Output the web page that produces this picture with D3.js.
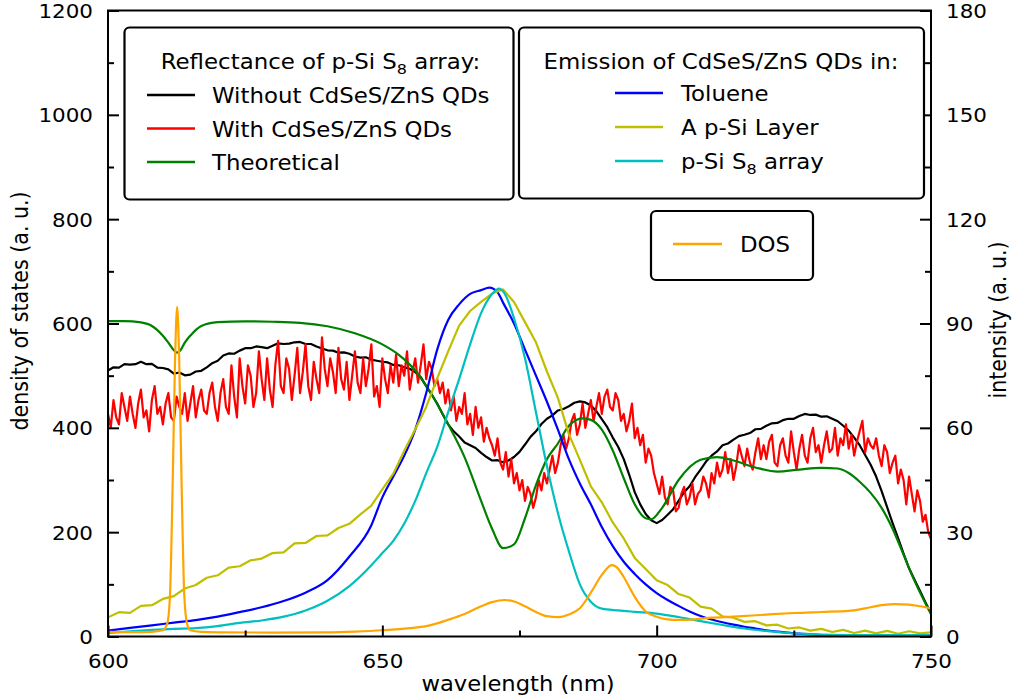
<!DOCTYPE html>
<html>
<head>
<meta charset="utf-8">
<script src="https://cdn.jsdelivr.net/npm/d3@7"></script>
<style>
body{margin:0;background:#fff}
svg{display:block}
text{font-family:"DejaVu Sans",sans-serif;fill:#000}
</style>
</head>
<body>
<svg id="chart" width="1013" height="700"></svg>
<script>
// ---------- tick labels ----------
const xMajor = [600, 650, 700, 750];
const xMinor = [625, 675, 725];
const leftMajor = [0, 200, 400, 600, 800, 1000, 1200];
const leftMinor = [100, 300, 500, 700, 900, 1100];
const rightMajor = [0, 30, 60, 90, 120, 150, 180];
const rightMinor = [15, 45, 75, 105, 135, 165];

// ---------- reflectance (right axis units) ----------
// Without CdSeS/ZnS QDs : 600..750 nm, every 1 nm
const blackStart = 600, blackStep = 1;
const blackVals = [
  76.5,77.4,77.3,78.3,78.2,78.3,79,78.3,78.4,77.3,
  77.2,76.8,75.6,75.9,75.1,75.3,76.2,76.4,77.4,78.6,
  79.3,80.8,81.4,81.3,82.2,82.9,82.9,83.4,83.2,82.9,
  83.6,84.3,84.1,84.2,84.6,84.7,84.1,84.1,83.4,82.8,
  82.3,82.2,81.6,81.7,81.3,80.5,80.2,80.3,79.6,79.3,
  79,78.8,78.1,78,77.4,77,76,74.6,72,69.6,
  67,63.9,61,59,57.5,55.8,55,54.2,52.8,51.6,
  50.6,50.7,50.1,50.6,51.6,53.1,55.2,57.4,59,61.1,
  62.6,63.6,65,65.4,66.2,67.2,67.6,67.3,66.4,64.8,
  62.5,60.2,57.2,54.5,51,46.5,41.5,38,35.2,33.4,
  32.6,33.5,35,36.6,39,41.5,43.2,45.8,48,50.3,
  52,53.2,55,55.5,56.6,57.6,58,58.5,59.6,59.7,
  60.6,61.3,61.4,62.2,62.6,62.6,63.4,64,63.7,63.8,
  63.2,63.3,62.6,61.9,60.6,59.2,57.2,55,52.2,49.4,
  46,41.8,37.2,32.6,28.3,23.8,19.6,16.3,13.1,9.8,
  6.6];
// With CdSeS/ZnS QDs : 600..750 nm, every 0.5 nm
const redStart = 600, redStep = 0.5;
const redVals = [
  64,60,68,63,61,70,66,62,69,64,60,67,71,63,65,59,68,72,64,66,
  61,67,70,63,62,69,66,64,70,62,67,72,63,68,71,65,64,70,73,66,
  62,70,74,66,64,78,69,63,80,72,67,78,75,66,70,82,74,68,80,71,
  66,78,85,72,70,80,77,68,75,83,70,76,84,72,68,79,74,70,86,77,
  72,80,76,70,83,74,71,79,68,75,82,73,70,80,72,77,84,69,72,66,
  80,74,70,78,73,81,72,78,75,82,71,76,80,73,78,84,74,79,77,72,
  74,70,73,67,71,65,69,62,66,64,70,61,64,58,66,60,63,56,60,57,
  55,52,57,50,48,53,46,51,44,47,42,45,39,43,41,37,40,45,42,47,
  44,48,52,47,50,55,58,54,57,62,64,58,61,67,60,64,68,62,66,70,
  64,69,71,66,65,70,68,62,64,59,62,67,57,60,55,58,50,54,52,47,
  44,41,46,40,38,43,42,36,37,41,43,38,40,44,38,41,42,46,44,40,
  47,44,50,46,48,53,47,51,45,49,55,52,49,54,50,48,53,57,51,55,
  51,56,58,50,49,55,57,52,50,59,53,48,54,58,52,50,57,60,53,55,
  50,55,59,53,54,60,52,57,55,61,54,58,52,56,59,62,53,57,55,54,
  57,52,49,55,53,47,50,52,44,48,45,38,46,41,36,42,39,33,35,30,
  28];
// Theoretical
const greenWl = [600,603,606,608,610,611,612,612.6,613.2,614,615,617,620,625,630,635,640,645,650,653,
  656,659,662,665,668,670,672,674,676,678,680,682,684,686.5,688,690,692,694,696,698,
  699,701,704,708,711,714,718,722,726,730,733,735,737,739,741,743,745,747,749,750];
const greenVals = [90.7,90.7,90.3,89.3,86.5,84.5,82.3,81.6,82.3,84.5,86.5,89.3,90.4,90.6,90.5,90.2,89.2,87.2,84,81,
  76.5,69.5,61,51.5,39,31,25.4,26.5,34,43.5,51,55.5,60.6,62.7,62.3,59.5,53.5,45.5,38,34,
  33.7,37,45,50.8,51.6,50.6,48.6,47.4,48,48.5,48.3,47,44.5,41.3,37,31,23.5,16,9.5,6.5];

// ---------- emission (right axis) ----------
const blueWl = [600,604,608,612,616,620,624,628,632,636,640,644,648,650,652,654,656,658,660,662,
  664,666,668,669.5,671,672,674,676,678,680,682,684,686,688,690,692,694,696,698,700,
  702,704,706,708,710,712,714,716,718,720,722,724,726,728,730,735,740,745,750];
const blueVals = [1.7,2.5,3.2,4,4.7,5.7,7,8.4,10.2,12.6,16.2,23,32,40,46,52,59.5,70,82.5,91,
  95.5,98.5,99.6,100.3,99,96,90,82.5,75,67.5,59.5,51,44,38,31.5,26,21.5,18,15,12.5,
  10.5,8.8,7.2,5.9,4.9,4.1,3.4,2.8,2.3,1.8,1.4,1.1,0.8,0.6,0.4,0.2,0.1,0.1,0.1];
// A p-Si Layer : 600..750 nm, every 2 nm
const oliveStart = 600, oliveStep = 2;
const oliveVals = [5.5,7,6.8,8.8,9,10.8,11.6,13.8,14.8,16.9,
  17.6,19.8,20.2,21.9,22.4,24,24.2,26.8,26.9,28.9,
  29.1,31.2,32.4,35.1,37.6,42.3,
  46.8,53.4,59.6,66,74.2,82,89.4,93.6,96.2,98.6,
  99.8,96.2,90.4,84.6,76.2,68.6,58.2,50.8,43.2,38.6,
  32.8,28.2,22.6,19.4,16.2,
  14.8,12.2,11.2,8.6,8,5.8,5.4,4.2,4.4,3.2,
  3.4,2.3,2.6,1.7,2.2,1.3,1.9,1,1.7,0.9,
  1.6,0.8,1.5,0.9,1.2];
// p-Si S8 array
const cyanWl = [600,604,608,612,616,620,624,628,632,636,640,644,648,650,652,654,656,658,660,662,
  664,666,668,670,671.3,672.5,674,676,678,680,682,684,686,688,690,693,696,700,704,708,
  712,716,720,724,728,732,738,744,750];
const cyanVals = [1,1.5,1.9,2.2,2.4,3,3.9,4.6,5.7,7.5,10.3,14.5,20.5,24,27.5,32.5,39,47,54.5,64.5,
  74,84,93,98.5,100,98,91.5,80,64.5,49,35.5,24.5,15,10,8,7.5,7.1,6.6,5.6,4.4,
  3.3,2.3,1.6,1,0.7,0.5,0.4,0.4,0.4];

// ---------- density of states (left axis) ----------
const dosWl = [600,605,608,610,610.8,611.3,611.8,612.2,612.6,613,613.4,613.9,614.4,615,617,620,630,640,645,650,
  655,658,662,665,668,670,672.3,674,676,678,680,682,684,686,688,690,691.8,693,694,696,
  698,700,702,704,707,710,714,720,725,730,735,738,741,743.5,746,748,750];
const dosVals = [9,8.5,9,12,25,80,300,520,632,520,300,80,25,12,9,8,7.5,8,9.5,12,
  16,20,32,43,58,66,70,67,58,47,39,37,42,54,84,118,137,130,114,76,
  48,38,33,32,33,36,38,42,45,47,49,54,60,62,61,58,54];

// ---------- texts ----------
const xLabel = "wavelength (nm)";
const leftLabel = "density of states (a. u.)";
const rightLabel = "intensity (a. u.)";
const legend1Title = ["Reflectance of p-Si S", "8", " array:"];
const legend1Items = ["Without CdSeS/ZnS QDs", "With CdSeS/ZnS QDs", "Theoretical"];
const legend1Colors = ["#000000", "#ff0000", "#008000"];
const legend2Title = "Emission of CdSeS/ZnS QDs in:";
const legend2Items = [["Toluene"], ["A p-Si Layer"], ["p-Si S", "8", " array"]];
const legend2Colors = ["#0000ff", "#bfbf00", "#00bfbf"];
const legend3Items = ["DOS"];
const legend3Colors = ["#ffa500"];

// ---------- layout ----------
const X0 = 108, X1 = 931, Y0 = 10.5, Y1 = 636.5;
const SX = 1.1; // horizontal text stretch of the reference
const svg = d3.select("#chart");

const x = d3.scaleLinear().domain([600, 750]).range([X0, X1]);
const yL = d3.scaleLinear().domain([0, 1200]).range([Y1, Y0]);
const yR = d3.scaleLinear().domain([0, 180]).range([Y1, Y0]);

svg.append("defs").append("clipPath").attr("id", "plot")
  .append("rect").attr("x", X0).attr("y", Y0).attr("width", X1 - X0).attr("height", Y1 - Y0);

function toPts(xs, vals) { return vals.map((v, i) => [xs[i], v]); }
function stepPts(start, step, vals) { return vals.map((v, i) => [start + i * step, v]); }

const plot = svg.append("g").attr("clip-path", "url(#plot)");
function draw(pts, yScale, color, curve, width) {
  plot.append("path").datum(pts)
    .attr("fill", "none").attr("stroke", color).attr("stroke-width", width || 2.2)
    .attr("stroke-linejoin", "round")
    .attr("d", d3.line().x(d => x(d[0])).y(d => yScale(d[1])).curve(curve || d3.curveLinear));
}
draw(stepPts(blackStart, blackStep, blackVals), yR, "#000000");
draw(stepPts(redStart, redStep, redVals), yR, "#ff0000");
draw(toPts(greenWl, greenVals), yR, "#008000", d3.curveMonotoneX);
draw(toPts(blueWl, blueVals), yR, "#0000ff", d3.curveMonotoneX);
draw(stepPts(oliveStart, oliveStep, oliveVals), yR, "#bfbf00");
draw(toPts(cyanWl, cyanVals), yR, "#00bfbf", d3.curveMonotoneX);
draw(toPts(dosWl, dosVals), yL, "#ffa500", d3.curveMonotoneX);

// ---------- axes ----------
function styleAxis(g) {
  g.select(".domain").remove();
  g.selectAll(".tick line").attr("stroke", "#000").attr("stroke-width", 2);
  g.attr("font-family", null).attr("font-size", null);
}
const TICK_FS = 19.5;
// left
const gL = svg.append("g").attr("transform", `translate(${X0},0)`)
  .call(d3.axisLeft(yL).tickValues(leftMajor).tickSize(-11).tickFormat(d3.format("d")));
styleAxis(gL);
gL.selectAll(".tick text").attr("x", 0).attr("dy", "0.36em").attr("font-size", TICK_FS)
  .attr("text-anchor", "end").attr("transform", `translate(-15,0) scale(${SX},1)`);
const gLm = svg.append("g").attr("transform", `translate(${X0},0)`)
  .call(d3.axisLeft(yL).tickValues(leftMinor).tickSize(-6).tickFormat(() => ""));
styleAxis(gLm);
// right
const gR = svg.append("g").attr("transform", `translate(${X1},0)`)
  .call(d3.axisRight(yR).tickValues(rightMajor).tickSize(-11).tickFormat(d3.format("d")));
styleAxis(gR);
gR.selectAll(".tick text").attr("x", 0).attr("dy", "0.36em").attr("font-size", TICK_FS)
  .attr("text-anchor", "start").attr("transform", `translate(15,0) scale(${SX},1)`);
const gRm = svg.append("g").attr("transform", `translate(${X1},0)`)
  .call(d3.axisRight(yR).tickValues(rightMinor).tickSize(-6).tickFormat(() => ""));
styleAxis(gRm);
// bottom
const gB = svg.append("g").attr("transform", `translate(0,${Y1})`)
  .call(d3.axisBottom(x).tickValues(xMajor).tickSize(-11).tickFormat(d3.format("d")));
styleAxis(gB);
gB.selectAll(".tick text").attr("y", 0).attr("dy", 0).attr("font-size", TICK_FS)
  .attr("text-anchor", "middle").attr("transform", `translate(0,31.5) scale(${SX},1)`);
const gBm = svg.append("g").attr("transform", `translate(0,${Y1})`)
  .call(d3.axisBottom(x).tickValues(xMinor).tickSize(-6).tickFormat(() => ""));
styleAxis(gBm);

// frame
svg.append("rect").attr("x", X0).attr("y", Y0).attr("width", X1 - X0).attr("height", Y1 - Y0)
  .attr("fill", "none").attr("stroke", "#000").attr("stroke-width", 2);

// ---------- text helper ----------
function addText(parent, px, py, size, anchor, parts, rot) {
  const t = parent.append("text")
    .attr("transform", `translate(${px},${py}) scale(${SX},1)` + (rot ? ` rotate(${rot})` : ""))
    .attr("font-size", size).attr("text-anchor", anchor);
  const arr = Array.isArray(parts) ? parts : [parts];
  arr.forEach((p, i) => {
    const ts = t.append("tspan").text(p);
    if (arr.length === 3 && i === 1) ts.attr("font-size", size * 0.7).attr("dy", size * 0.22);
    if (arr.length === 3 && i === 2) ts.attr("dy", -size * 0.22);
  });
  return t;
}
const LAB_FS = 20.6;
addText(svg, 518, 691, LAB_FS, "middle", xLabel);
addText(svg, 28, 311, LAB_FS, "middle", leftLabel, -90);
addText(svg, 1006, 320, LAB_FS, "middle", rightLabel, -90);

// ---------- legends ----------
const LEG_FS = 20.8;
function box(bx, by, bw, bh) {
  svg.append("rect").attr("x", bx).attr("y", by).attr("width", bw).attr("height", bh)
    .attr("rx", 5).attr("fill", "#fff").attr("stroke", "#000").attr("stroke-width", 2.2);
}
function entry(lx0, lx1, ly, tx, tb, color, label) {
  svg.append("line").attr("x1", lx0).attr("x2", lx1).attr("y1", ly).attr("y2", ly)
    .attr("stroke", color).attr("stroke-width", 2.4);
  addText(svg, tx, tb, LEG_FS, "start", label);
}
// legend 1
box(124.5, 27.5, 389, 172);
addText(svg, 320.5, 69, LEG_FS, "middle", legend1Title);
const l1Rows = [95, 128.5, 162];
legend1Items.forEach((s, i) => entry(147, 195, l1Rows[i], 212, l1Rows[i] + 8, legend1Colors[i], s));
// legend 2
box(519, 27.5, 405, 171);
addText(svg, 721, 68.5, LEG_FS, "middle", legend2Title);
const l2Rows = [93, 127, 161];
legend2Items.forEach((s, i) => entry(615, 663, l2Rows[i], 681, l2Rows[i] + 8, legend2Colors[i], s));
// legend 3
box(651, 211, 162, 69);
legend3Items.forEach((s, i) => entry(673, 722, 244, 740, 252, legend3Colors[i], s));
</script>
</body>
</html>
